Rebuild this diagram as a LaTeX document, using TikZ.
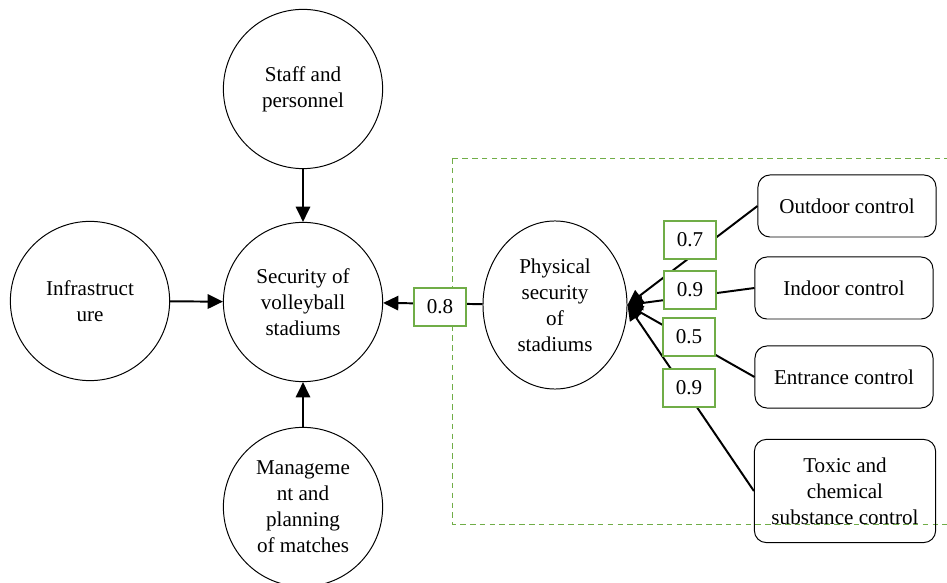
\documentclass[tikz,border=0pt]{standalone}
\usepackage{fontspec}
\setmainfont{Liberation Serif}
\usetikzlibrary{shapes.geometric,arrows.meta}
\definecolor{boxgreen}{HTML}{70AD47}

\tikzset{
  factor/.style={ellipse, draw, line width=0.7pt, minimum width=3.98cm, minimum height=3.98cm, inner sep=0pt, align=center},
  control/.style={draw, rounded corners=0.3cm, line width=0.7pt, minimum width=4.45cm, minimum height=1.55cm, align=center},
  weight/.style={draw=boxgreen, line width=0.8pt, fill=white, minimum width=1.3cm, minimum height=0.95cm, inner sep=0pt},
  link/.style={line width=1.4pt, -{Triangle[length=0.38cm,width=0.36cm]}},
}

\begin{document}
\begin{tikzpicture}[x=0.025cm, y=-0.025cm, font=\fontsize{15}{18.4}\selectfont]
    \useasboundingbox (0,0) rectangle (947,583);
    \draw[boxgreen, dash pattern=on 4pt off 3pt, line width=0.7pt] (452,158) rectangle (965,524);

    \node[factor] (staff) at (303,89) {Staff and\\personnel};
    \node[factor] (sec) at (303,302) {Security of\\volleyball\\stadiums};
    \node[factor] (infra) at (90,301) {Infrastruct\\ure};
    \node[factor] (manage) at (303,507) {Manageme\\nt and\\planning\\of matches};
    \node[factor, minimum width=3.6cm, minimum height=4.2cm] (phys) at (555,305) {Physical\\security\\of\\stadiums};

    \node[control] (outdoor) at (847,206) {Outdoor control};
    \node[control] (indoor) at (844,288) {Indoor control};
    \node[control] (entrance) at (844,377) {Entrance control};
    \node[control, minimum width=4.53cm, minimum height=2.58cm] (toxic) at (845,491) {Toxic and\\chemical\\substance control};

    \draw[link] (staff) -- (sec);
    \draw[link] (infra) -- (sec);
    \draw[link] (manage) -- (sec);
    \draw[link] (phys) -- (sec);

    \draw[link] (outdoor.west) -- (phys.east);
    \draw[link] (indoor.west) -- (phys.east);
    \draw[link] (entrance.west) -- (phys.east);
    \draw[link] (toxic.west) -- (phys.east);

    \node[weight] (w1) at (440,307) {0.8};
    \node[weight] (w2) at (690,240) {0.7};
    \node[weight] (w3) at (690,290) {0.9};
    \node[weight] (w4) at (689,337) {0.5};
    \node[weight] (w5) at (689,388) {0.9};
\end{tikzpicture}
\end{document}
